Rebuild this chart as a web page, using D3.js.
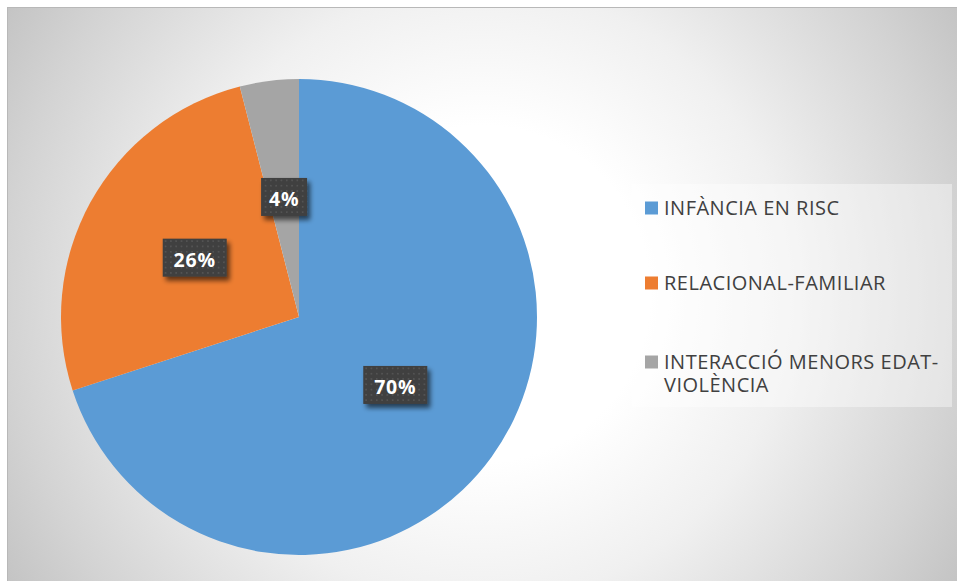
<!DOCTYPE html>
<html>
<head>
<meta charset="utf-8">
<script src="https://cdn.jsdelivr.net/npm/d3@7"></script>
<style>
  html, body { margin: 0; padding: 0; background: #ffffff; }
  svg { display: block; }
</style>
</head>
<body>
<svg id="chart" width="957" height="581"></svg>
<script>
// ---- Data ----
const categories = ["INFÀNCIA EN RISC", "RELACIONAL-FAMILIAR", "INTERACCIÓ MENORS EDAT-VIOLÈNCIA"];
const values = [70, 26, 4];
const valueLabels = ["70%", "26%", "4%"];
const legendLines = [["INFÀNCIA EN RISC"], ["RELACIONAL-FAMILIAR"], ["INTERACCIÓ MENORS EDAT-", "VIOLÈNCIA"]];
const colors = ["#5B9BD5", "#ED7D31", "#A5A5A5"];

const svg = d3.select("#chart");
const defs = svg.append("defs");

// background radial gradient
const bg = defs.append("radialGradient")
  .attr("id", "bgGrad")
  .attr("gradientUnits", "userSpaceOnUse")
  .attr("cx", 482).attr("cy", 294).attr("r", 560);
[[0, "#ffffff"], [0.3, "#ffffff"], [0.55, "#f0f0f0"], [0.85, "#d3d3d3"], [1, "#c3c3c3"]]
  .forEach(([o, c]) => bg.append("stop").attr("offset", o).attr("stop-color", c));

// dotted pattern for data labels
const pat = defs.append("pattern")
  .attr("id", "dots")
  .attr("patternUnits", "userSpaceOnUse")
  .attr("width", 5.3).attr("height", 5.3);
pat.append("rect").attr("width", 5.3).attr("height", 5.3).attr("fill", "#3f3f3f");
pat.append("circle").attr("cx", 2.65).attr("cy", 2.65).attr("r", 0.95).attr("fill", "#575757");

// shadow filter
const f = defs.append("filter").attr("id", "shadow")
  .attr("x", "-30%").attr("y", "-30%").attr("width", "160%").attr("height", "160%");
f.append("feGaussianBlur").attr("in", "SourceAlpha").attr("stdDeviation", 2.5).attr("result", "b");
f.append("feOffset").attr("in", "b").attr("dx", 3).attr("dy", 4).attr("result", "o");
f.append("feComponentTransfer").attr("in", "o").attr("result", "s")
  .append("feFuncA").attr("type", "linear").attr("slope", 0.6);
const m = f.append("feMerge");
m.append("feMergeNode").attr("in", "s");
m.append("feMergeNode").attr("in", "SourceGraphic");

// chart area
svg.append("rect")
  .attr("x", 7.5).attr("y", 7.5).attr("width", 955).attr("height", 580)
  .attr("fill", "url(#bgGrad)")
  .attr("stroke", "#b8b8b8").attr("stroke-width", 1);

// ---- Pie ----
const cx = 299, cy = 317, R = 238;
const pie = d3.pie().sort(null).value(d => d)(values);
const arc = d3.arc().innerRadius(0).outerRadius(R);
const g = svg.append("g").attr("transform", `translate(${cx},${cy})`);

g.selectAll("path.slice")
  .data(pie)
  .join("path")
  .attr("class", "slice")
  .attr("d", arc)
  .attr("fill", (d, i) => colors[i]);

// data labels
const lab = g.selectAll("g.lab")
  .data(pie)
  .join("g")
  .attr("class", "lab")
  .attr("transform", d => { const c = arc.centroid(d); return `translate(${c[0]},${c[1]})`; });

lab.each(function(d, i) {
  const sel = d3.select(this);
  const t = valueLabels[i];
  const w = t.length === 2 ? 46 : 64;
  const h = 38;
  sel.append("rect")
    .attr("x", -w / 2).attr("y", -h / 2 - 2)
    .attr("width", w).attr("height", h)
    .attr("fill", "url(#dots)")
    .attr("filter", "url(#shadow)");
  sel.append("text")
    .attr("x", 0).attr("y", 7)
    .attr("text-anchor", "middle")
    .attr("font-family", "'Open Sans', sans-serif")
    .attr("font-weight", "bold")
    .attr("font-size", 19.5)
    .attr("letter-spacing", 0.8)
    .attr("fill", "#ffffff")
    .text(t);
});

// ---- Legend ----
svg.append("rect")
  .attr("x", 632).attr("y", 184).attr("width", 320).attr("height", 223)
  .attr("fill", "#ffffff").attr("fill-opacity", 0.4);

const baselines = [215, 290, 369];
const lg = svg.append("g");
categories.forEach((c, i) => {
  lg.append("rect")
    .attr("x", 645).attr("y", baselines[i] - 13.5)
    .attr("width", 13).attr("height", 13)
    .attr("fill", colors[i]);
  legendLines[i].forEach((ln, j) => {
    lg.append("text")
      .attr("x", 664).attr("y", baselines[i] + j * 22.5)
      .attr("font-family", "'Open Sans', sans-serif")
      .attr("font-size", 20)
      .attr("letter-spacing", 0.5)
      .attr("fill", "#404040")
      .text(ln);
  });
});
</script>
</body>
</html>
